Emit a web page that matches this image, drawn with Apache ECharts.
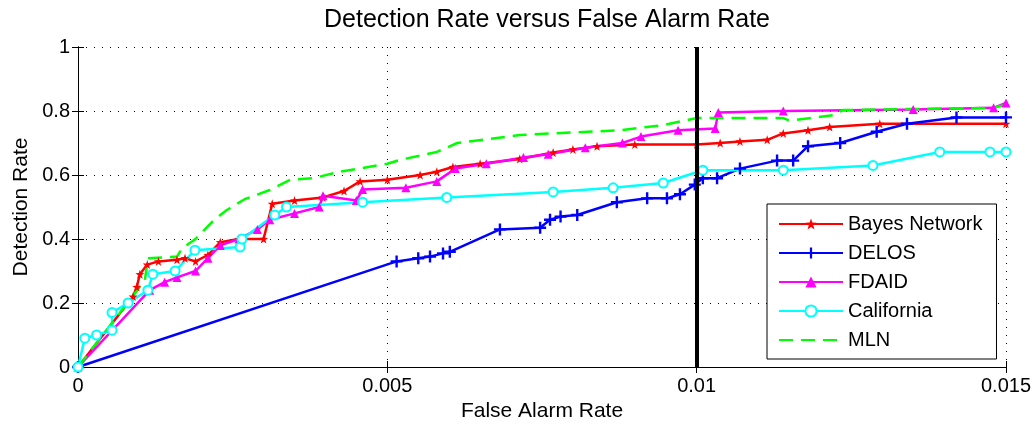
<!DOCTYPE html>
<html>
<head>
<meta charset="utf-8">
<script src="https://cdn.jsdelivr.net/npm/echarts@6/dist/echarts.min.js"></script>
<style>
  html, body { margin: 0; padding: 0; background: #fff; }
  #chart { width: 1034px; height: 430px; }
</style>
</head>
<body>
<div id="chart"></div>
<script>
// values, [false alarm rate, detection rate]
const bayes = [[0, 0], [0.00089, 0.22], [0.00095, 0.25], [0.0010, 0.29], [0.00112, 0.32], [0.0013, 0.33], [0.0016, 0.335],
    [0.00173, 0.34], [0.0019, 0.33], [0.0021, 0.35], [0.0023, 0.39], [0.0026, 0.40], [0.0030, 0.40], [0.00314, 0.51],
    [0.0035, 0.52], [0.00396, 0.53], [0.0043, 0.55], [0.00456, 0.58], [0.0050, 0.585], [0.00553, 0.60], [0.0058, 0.61],
    [0.00606, 0.625], [0.0065, 0.635], [0.00714, 0.65], [0.00768, 0.67], [0.0080, 0.68], [0.00839, 0.69], [0.0090, 0.695],
    [0.0100, 0.695], [0.01038, 0.70], [0.0107, 0.705], [0.01114, 0.71], [0.0114, 0.73], [0.0118, 0.74], [0.01215, 0.75],
    [0.01296, 0.76], [0.015, 0.76]];
const delos = [[0, 0], [0.00515, 0.33], [0.0055, 0.34], [0.00569, 0.345], [0.0059, 0.355], [0.00601, 0.36], [0.00682, 0.43],
    [0.00747, 0.435], [0.00763, 0.46], [0.0078, 0.47], [0.00807, 0.475], [0.00871, 0.515], [0.0092, 0.527], [0.00952, 0.527],
    [0.00973, 0.54], [0.00997, 0.57], [0.0101, 0.59], [0.01033, 0.59], [0.0107, 0.62], [0.0113, 0.645], [0.01156, 0.645],
    [0.0118, 0.69], [0.01232, 0.70], [0.01291, 0.735], [0.0134, 0.76], [0.0142, 0.78], [0.015, 0.78]];
const fdaid = [[0, 0], [0.00116, 0.24], [0.0014, 0.265], [0.0016, 0.28], [0.0019, 0.30], [0.0021, 0.34], [0.0023, 0.38],
    [0.0026, 0.40], [0.0029, 0.43], [0.0031, 0.46], [0.0035, 0.48], [0.0039, 0.50], [0.00396, 0.535], [0.0045, 0.52],
    [0.0046, 0.555], [0.0053, 0.56], [0.0058, 0.58], [0.0061, 0.62], [0.0066, 0.635], [0.0072, 0.655], [0.0076, 0.665],
    [0.0082, 0.685], [0.0088, 0.70], [0.0091, 0.72], [0.0097, 0.74], [0.0103, 0.745], [0.01035, 0.795], [0.0114, 0.80],
    [0.0135, 0.805], [0.0148, 0.81], [0.015, 0.825]];
const california = [[0, 0], [0.00011, 0.09], [0.0003, 0.10], [0.00055, 0.115], [0.00055, 0.17], [0.00081, 0.20],
    [0.00113, 0.24], [0.00121, 0.29], [0.00157, 0.30], [0.00189, 0.365], [0.00262, 0.375], [0.00265, 0.40],
    [0.00318, 0.475], [0.00337, 0.50], [0.0046, 0.515], [0.00596, 0.53], [0.00768, 0.547], [0.00865, 0.56],
    [0.00946, 0.575], [0.0101, 0.615], [0.0114, 0.615], [0.01285, 0.63], [0.01393, 0.672], [0.01474, 0.672], [0.015, 0.672]];
const mln = [[0, 0], [0.00108, 0.27], [0.00113, 0.34], [0.0016, 0.345], [0.00168, 0.37], [0.0019, 0.40], [0.0022, 0.46],
    [0.0024, 0.49], [0.0027, 0.525], [0.0031, 0.553], [0.00343, 0.585], [0.0038, 0.59], [0.00423, 0.61], [0.0050, 0.635],
    [0.0052, 0.647], [0.0058, 0.672], [0.00613, 0.70], [0.00714, 0.725], [0.00876, 0.74], [0.00946, 0.756], [0.0100, 0.778],
    [0.0114, 0.778], [0.0115, 0.77], [0.0122, 0.787], [0.01236, 0.803], [0.0148, 0.81], [0.015, 0.82]];
const seriesNames = ['Bayes Network', 'DELOS', 'FDAID', 'California', 'MLN'];
const xTicks = [0, 0.005, 0.01, 0.015];
const yTicks = [0, 0.2, 0.4, 0.6, 0.8, 1];
const thresholdX = 0.01;

const font = 'Liberation Sans, Arial, sans-serif';
const starPath = 'path://M0,-10 L2.35,-3.24 L9.51,-3.09 L3.8,1.24 L5.88,8.09 L0,4 L-5.88,8.09 L-3.8,1.24 L-9.51,-3.09 L-2.35,-3.24Z';
const plusPath = 'path://M-1,-5 L1,-5 L1,-1 L5,-1 L5,1 L1,1 L1,5 L-1,5 L-1,1 L-5,1 L-5,-1 L-1,-1Z';

const gridDots = {show: true, lineStyle: {color: '#000', width: 1, type: [1, 7]}};

const myChart = echarts.init(document.getElementById('chart'), null, {renderer: 'canvas'});
const option = {
    animation: false,
    backgroundColor: '#fff',
    title: {
        text: 'Detection Rate versus False Alarm Rate',
        left: 542,
        textAlign: 'center',
        top: 3,
        textStyle: {fontFamily: font, fontSize: 25, fontWeight: 'normal', color: '#000'}
    },
    grid: {left: 78, right: 28, top: 47, bottom: 63},
    legend: {
        orient: 'vertical',
        left: 767,
        top: 204,
        padding: [10, 14, 9, 11],
        itemWidth: 64,
        itemHeight: 14,
        itemGap: 9,
        backgroundColor: '#fff',
        borderColor: '#000',
        borderWidth: 1,
        textStyle: {fontFamily: font, fontSize: 20, color: '#000', lineHeight: 18},
        data: seriesNames.map((n) => n === 'MLN' ? {name: n, itemStyle: {opacity: 0}} : n)
    },
    xAxis: [{
        type: 'value',
        min: 0,
        max: 0.015,
        interval: 0.005,
        name: 'False Alarm Rate',
        nameLocation: 'middle',
        nameGap: 31,
        nameTextStyle: {fontFamily: font, fontSize: 21, color: '#000'},
        axisLine: {lineStyle: {color: '#000', width: 1}},
        axisTick: {inside: true, length: 6, lineStyle: {color: '#000'}},
        axisLabel: {
            fontFamily: font, fontSize: 20, color: '#000', margin: 9,
            formatter: (v) => xTicks.includes(v) ? String(v) : ''
        },
        splitLine: gridDots
    }, {
        type: 'value',
        position: 'top',
        min: 0,
        max: 0.015,
        interval: 0.005,
        axisLine: {show: true, lineStyle: {color: '#000', width: 1}},
        axisTick: {inside: true, length: 6, lineStyle: {color: '#000'}},
        axisLabel: {show: false},
        splitLine: {show: false}
    }],
    yAxis: [{
        type: 'value',
        min: 0,
        max: 1,
        interval: 0.2,
        name: 'Detection Rate',
        nameLocation: 'middle',
        nameGap: 46,
        nameTextStyle: {fontFamily: font, fontSize: 21, color: '#000'},
        axisLine: {show: true, lineStyle: {color: '#000', width: 1}},
        axisTick: {show: true, inside: true, length: 6, lineStyle: {color: '#000'}},
        axisLabel: {
            fontFamily: font, fontSize: 20, color: '#000', margin: 8,
            formatter: (v) => {
                const t = yTicks.find((y) => Math.abs(y - v) < 1e-9);
                return t === undefined ? '' : String(t);
            }
        },
        splitLine: gridDots
    }, {
        type: 'value',
        position: 'right',
        min: 0,
        max: 1,
        interval: 0.2,
        axisLine: {show: true, lineStyle: {color: '#000', width: 1}},
        axisTick: {show: true, inside: true, length: 6, lineStyle: {color: '#000'}},
        axisLabel: {show: false},
        splitLine: {show: false}
    }],
    series: [{
        name: seriesNames[0],
        type: 'line',
        data: bayes,
        color: '#ff0000',
        symbol: starPath,
        symbolSize: 9,
        showAllSymbol: true,
        lineStyle: {width: 2.5, color: '#ff0000'},
        itemStyle: {color: '#ff0000'}
    }, {
        name: seriesNames[1],
        type: 'line',
        data: delos,
        color: '#0000ff',
        symbol: plusPath,
        symbolSize: 12,
        showAllSymbol: true,
        lineStyle: {width: 2.5, color: '#0000ff'},
        itemStyle: {color: '#0000ff'}
    }, {
        name: seriesNames[2],
        type: 'line',
        data: fdaid,
        color: '#ff00ff',
        symbol: 'triangle',
        symbolSize: 9,
        showAllSymbol: true,
        lineStyle: {width: 2.5, color: '#ff00ff'},
        itemStyle: {color: '#ff00ff'}
    }, {
        name: seriesNames[3],
        type: 'line',
        data: california,
        color: '#00ffff',
        symbol: 'emptyCircle',
        symbolSize: 9,
        showAllSymbol: true,
        lineStyle: {width: 2.5, color: '#00ffff'},
        itemStyle: {color: '#00ffff', borderWidth: 2}
    }, {
        name: seriesNames[4],
        type: 'line',
        data: mln,
        color: '#00ff00',
        symbol: 'none',
        lineStyle: {width: 2.5, color: '#00ff00', type: [14, 8]},
        itemStyle: {color: '#00ff00'},
        markLine: {
            silent: true,
            symbol: 'none',
            label: {show: false},
            lineStyle: {color: '#000', width: 4, type: 'solid'},
            data: [{xAxis: thresholdX}]
        }
    }]
};
myChart.setOption(option);
</script>
</body>
</html>
